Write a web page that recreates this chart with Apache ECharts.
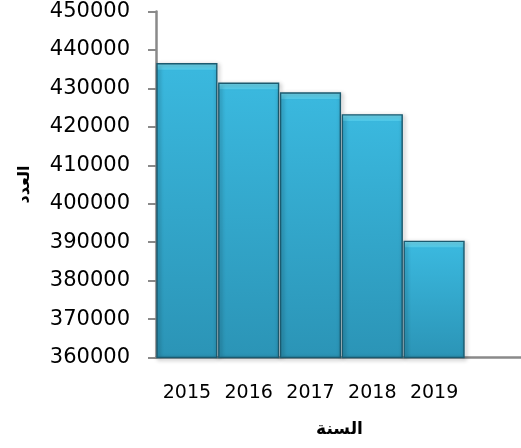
<!DOCTYPE html>
<html>
<head>
<meta charset="utf-8">
<script src="https://cdn.jsdelivr.net/npm/echarts@6/dist/echarts.min.js"></script>
<style>
  html, body { margin: 0; padding: 0; background: #fff; }
  #main { width: 521px; height: 448px; }
</style>
</head>
<body>
<div id="main"></div>
<script>
var years = ['2015', '2016', '2017', '2018', '2019'];
var counts = [436600, 431500, 429000, 423300, 390400];
var yMin = 360000;
var yMax = 450000;
var yStep = 10000;

var chart = echarts.init(document.getElementById('main'));

// gradient that keeps a ~7px light bevel on top of each bar
function barFill(pxHeight) {
    var b = Math.min(0.5, 7 / Math.max(pxHeight, 1));
    return new echarts.graphic.LinearGradient(0, 0, 0, 1, [
        { offset: 0, color: '#78e0f7' },
        { offset: b * 0.9, color: '#52cdec' },
        { offset: b, color: '#3ab8de' },
        { offset: 1, color: '#2b94b6' }
    ]);
}

function buildOption(fills) {
    return {
        animation: false,
        grid: [
            { left: 156, right: 56, top: 11.5, bottom: 90.5, containLabel: false },
            { left: 156, right: 0, top: 11.5, bottom: 90.5, containLabel: false }
        ],
        xAxis: [{
            type: 'category',
            gridIndex: 0,
            data: years,
            name: 'السنة',
            nameLocation: 'middle',
            nameGap: 64,
            nameTextStyle: {
                fontFamily: 'DejaVu Sans', fontWeight: 'bold', fontSize: 17, color: '#000',
                padding: [0, 0, 0, 58]
            },
            axisLine: { show: false },
            axisTick: { show: false },
            axisLabel: { interval: 0, margin: 26, fontFamily: 'DejaVu Sans', fontSize: 19, color: '#000' }
        }, {
            type: 'value',
            gridIndex: 1,
            min: 0,
            max: 1,
            axisLine: { show: true, lineStyle: { color: '#8a8a8a', width: 2.5 } },
            axisTick: { show: false },
            axisLabel: { show: false },
            splitLine: { show: false }
        }],
        yAxis: [{
            type: 'value',
            gridIndex: 0,
            min: yMin,
            max: yMax,
            interval: yStep,
            name: 'العدد',
            nameLocation: 'middle',
            nameRotate: 90,
            nameGap: 123,
            nameTextStyle: { fontFamily: 'DejaVu Sans', fontWeight: 'bold', fontSize: 16, color: '#000' },
            axisLine: { show: true, lineStyle: { color: '#8a8a8a', width: 2.5 } },
            axisTick: { show: true, length: 8, lineStyle: { color: '#8a8a8a', width: 2 } },
            axisLabel: {
                margin: 26, fontFamily: 'DejaVu Sans', fontSize: 21, color: '#000',
                formatter: function (v) { return String(v); }
            },
            splitLine: { show: false }
        }, {
            type: 'value',
            gridIndex: 1,
            min: 0,
            max: 1,
            show: false
        }],
        series: [{
            type: 'bar',
            xAxisIndex: 0,
            yAxisIndex: 0,
            barCategoryGap: '1%',
            data: counts.map(function (v, i) {
                return {
                    value: v,
                    itemStyle: {
                        color: fills ? fills[i] : '#3ab8de'
                    }
                };
            }),
            itemStyle: {
                borderColor: '#1b5a6f',
                borderWidth: 1.4,
                shadowBlur: 4,
                shadowOffsetX: 1.5,
                shadowOffsetY: 1.5,
                shadowColor: 'rgba(0,0,0,0.45)'
            },
            z: 3
        }]
    };
}

chart.setOption(buildOption(null));

var fills = counts.map(function (v) {
    var top = chart.convertToPixel({ yAxisIndex: 0 }, v);
    var base = chart.convertToPixel({ yAxisIndex: 0 }, yMin);
    return barFill(base - top);
});
chart.setOption(buildOption(fills));
</script>
</body>
</html>
